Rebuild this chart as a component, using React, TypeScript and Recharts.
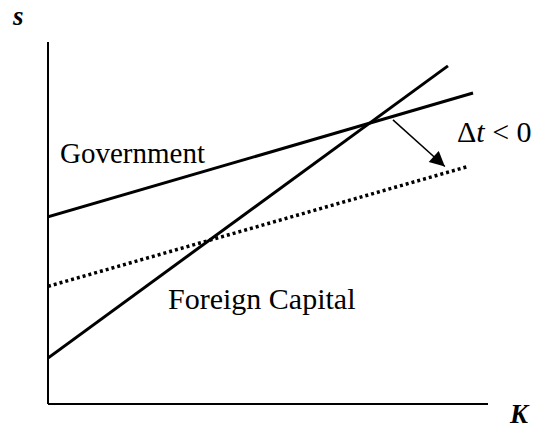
import React from "react";
import { ComposedChart, Line, XAxis, YAxis } from "recharts";

// lines (K on x, s on y, both 0-100)
const government = [
  { x: 0, y: 51.7 },
  { x: 96.6, y: 85.9 },
];
const governmentShifted = [
  { x: 0, y: 32.5 },
  { x: 95.7, y: 65.7 },
];
const foreignCapital = [
  { x: 0, y: 12.7 },
  { x: 90.9, y: 93.4 },
];
const shiftArrow = [
  { x: 78.4, y: 78.5 },
  { x: 90.2, y: 65.6 },
];

const font = "'Liberation Serif', 'Times New Roman', serif";

export default function App() {
  return (
    <div style={{ position: "absolute", left: 0, top: 0, width: 539, height: 432, background: "#fff" }}>
      <ComposedChart
        width={539}
        height={432}
        margin={{ top: 42, right: 51, bottom: 27, left: 47 }}
      >
        <defs>
          <marker
            id="arrowHead"
            viewBox="0 0 10 10"
            refX="10"
            refY="5"
            markerWidth="17"
            markerHeight="15"
            markerUnits="userSpaceOnUse"
            orient="auto"
          >
            <path d="M0,0 L10,5 L0,10 z" fill="#000" />
          </marker>
        </defs>
        <XAxis
          type="number"
          dataKey="x"
          domain={[0, 100]}
          height={1}
          tick={false}
          tickLine={false}
          axisLine={{ stroke: "#000", strokeWidth: 2 }}
          allowDataOverflow
        />
        <YAxis
          type="number"
          domain={[0, 100]}
          width={1}
          tick={false}
          tickLine={false}
          axisLine={{ stroke: "#000", strokeWidth: 2 }}
          allowDataOverflow
        />
        <Line
          data={governmentShifted}
          dataKey="y"
          type="linear"
          stroke="#000"
          strokeWidth={3.5}
          strokeDasharray="3 3"
          dot={false}
          isAnimationActive={false}
        />
        <Line
          data={government}
          dataKey="y"
          type="linear"
          stroke="#000"
          strokeWidth={3}
          dot={false}
          isAnimationActive={false}
        />
        <Line
          data={foreignCapital}
          dataKey="y"
          type="linear"
          stroke="#000"
          strokeWidth={3}
          dot={false}
          isAnimationActive={false}
        />
        <Line
          data={shiftArrow}
          dataKey="y"
          type="linear"
          stroke="#000"
          strokeWidth={1.5}
          dot={false}
          markerEnd="url(#arrowHead)"
          isAnimationActive={false}
        />
      </ComposedChart>
      <svg
        width={539}
        height={432}
        style={{ position: "absolute", left: 0, top: 0, pointerEvents: "none" }}
      >
        <g fontFamily={font} fill="#000">
          <text x={13} y={25} fontSize={27} fontStyle="italic" fontWeight="bold">s</text>
          <text x={510} y={423} fontSize={27} fontStyle="italic" fontWeight="bold">K</text>
          <text x={60} y={163} fontSize={29}>Government</text>
          <text x={168} y={309} fontSize={30}>Foreign Capital</text>
          <text x={457} y={142} fontSize={30}>
            Δ<tspan fontStyle="italic">t</tspan> &lt; 0
          </text>
        </g>
      </svg>
    </div>
  );
}
